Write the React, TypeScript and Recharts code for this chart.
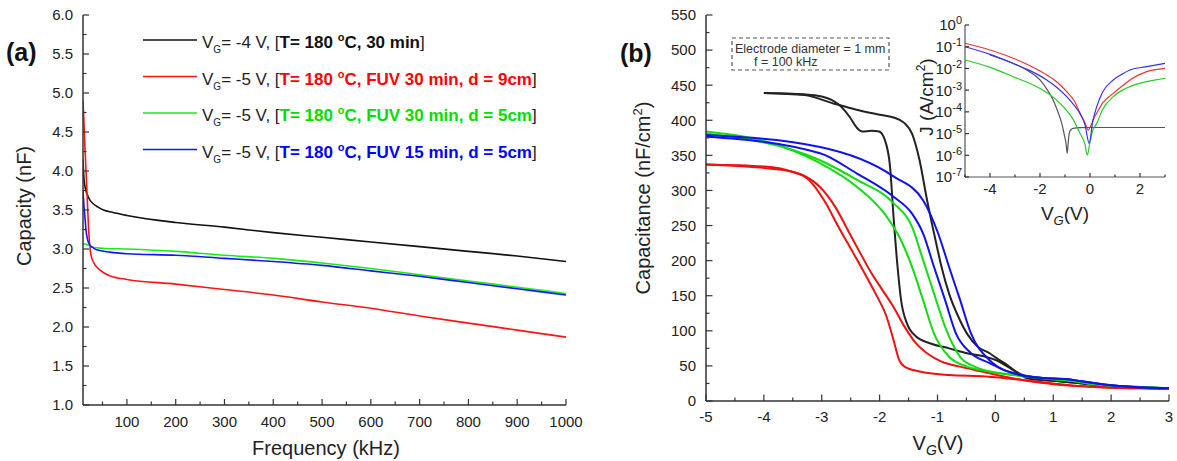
import React from 'react';
import { LineChart, Line, XAxis, YAxis } from 'recharts';

const FONT = '"Liberation Sans", Arial, Helvetica, sans-serif';
const AXIS = '#333333';
const TXT = '#222222';

// ---------------- Panel (a): capacity vs frequency ----------------
const aFreqBlack = [10, 12, 15, 20, 25, 31, 40, 52, 70, 100, 200, 300, 400, 500, 600, 700, 800, 900, 1000];
const aCapBlack = [4.15, 3.9, 3.77, 3.68, 3.62, 3.58, 3.54, 3.5, 3.47, 3.43, 3.34, 3.28, 3.21, 3.15, 3.09, 3.03, 2.97, 2.91, 2.84];
const aFreqRed = [10, 14, 18, 22, 25, 30, 45, 68, 100, 200, 300, 400, 500, 600, 700, 800, 900, 1000];
const aCapRed = [4.9, 4.3, 3.75, 3.2, 2.98, 2.85, 2.73, 2.65, 2.61, 2.55, 2.48, 2.41, 2.32, 2.24, 2.14, 2.05, 1.96, 1.87];
const aFreqGreen = [10, 20, 31, 50, 100, 200, 300, 400, 500, 600, 700, 800, 900, 1000];
const aCapGreen = [3.07, 3.05, 3.02, 3.01, 3.0, 2.97, 2.92, 2.88, 2.82, 2.75, 2.67, 2.59, 2.51, 2.43];
const aFreqBlue = [10, 12, 14, 16, 18, 24, 30, 38, 65, 100, 200, 300, 400, 500, 600, 700, 800, 900, 1000];
const aCapBlue = [3.75, 3.55, 3.41, 3.25, 3.16, 3.05, 3.02, 2.99, 2.96, 2.94, 2.92, 2.88, 2.84, 2.79, 2.72, 2.65, 2.57, 2.49, 2.41];

const aXTicks = [50, 100, 150, 200, 250, 300, 350, 400, 450, 500, 550, 600, 650, 700, 750, 800, 850, 900, 950, 1000];
const aYTicks = [1, 1.25, 1.5, 1.75, 2, 2.25, 2.5, 2.75, 3, 3.25, 3.5, 3.75, 4, 4.25, 4.5, 4.75, 5, 5.25, 5.5, 5.75, 6];

const aColors = ['#111111', '#ff1414', '#14ee14', '#1414ff'];
const aLegendColors = ['#111111', '#ff0000', '#00dd00', '#0000ff'];
const aLegendVg = ['-4', '-5', '-5', '-5'];
const aLegendCond = ['30 min', 'FUV 30 min, d = 9cm', 'FUV 30 min, d = 5cm', 'FUV 15 min, d = 5cm'];

// ---------------- Panel (b): C-V hysteresis ----------------
const bVBlackOut = [-4, -3.3, -2.8, -2.4, -2.0, -1.76, -1.57, -1.44, -1.31, -1.18, -1.06, -0.93, -0.8, -0.64, -0.49, -0.3, -0.1, 0.02, 0.21, 0.4, 0.56, 0.7, 1.0, 1.5, 2.0, 2.5, 3.0];
const bCBlackOut = [439, 436, 424, 415, 408, 404, 396, 381, 343, 286, 239, 191, 153, 120, 96, 77, 68, 61, 51, 39, 32, 31, 29, 25, 21, 19, 18];
const bVBlackIn = [-4, -3.3, -3.0, -2.7, -2.52, -2.39, -2.3, -2.14, -2.01, -1.91, -1.82, -1.76, -1.69, -1.63, -1.53, -1.37, -1.12, -0.8, -0.49, -0.17, 0.02, 0.21, 0.47, 0.66, 1.0, 1.5, 2.0, 2.5, 3.0];
const bCBlackIn = [439, 437, 434, 422, 405, 389, 384, 385, 384, 372, 334, 263, 191, 144, 111, 92, 82, 75, 68, 63, 58, 49, 37, 31, 29, 25, 21, 19, 18];

const bVRedIn = [-5, -3.98, -3.53, -3.22, -2.96, -2.71, -2.45, -2.26, -2.07, -1.88, -1.76, -1.66, -1.57, -1.31, -0.8, -0.17, 0.47, 1.0, 1.5, 2.0, 2.5, 3.0];
const bCRedIn = [337, 334, 327, 315, 286, 248, 210, 182, 153, 120, 87, 58, 49, 42, 37, 35, 30, 25, 21, 19, 18, 17];
const bVRedOut = [-5, -3.66, -3.28, -3.03, -2.77, -2.52, -2.33, -2.14, -1.95, -1.76, -1.57, -1.37, -1.18, -0.93, -0.61, -0.23, 0.15, 0.6, 1.0, 1.5, 2.0, 2.5, 3.0];
const bCRedOut = [337, 329, 320, 305, 277, 239, 210, 182, 158, 134, 106, 82, 68, 56, 49, 42, 35, 28, 24, 21, 19, 18, 17];

const bVGreenIn = [-5, -3.66, -3.03, -2.39, -1.88, -1.63, -1.44, -1.25, -1.06, -0.8, -0.49, -0.1, 0.5, 1.0, 1.3, 1.6, 2.0, 2.5, 3.0];
const bCGreenIn = [384, 362, 339, 305, 263, 229, 191, 144, 96, 63, 49, 42, 35, 31, 29, 25, 22, 20, 18];
const bVGreenOut = [-5, -3.03, -2.39, -1.76, -1.44, -1.25, -1.06, -0.87, -0.61, -0.36, -0.1, 0.5, 1.0, 1.3, 1.6, 2.0, 2.5, 3.0];
const bCGreenOut = [381, 343, 315, 282, 248, 201, 153, 106, 63, 49, 42, 36, 31, 29, 25, 22, 20, 18];

const bVBlueOut = [-5, -3.03, -1.76, -1.25, -0.99, -0.8, -0.61, -0.42, -0.1, 0.15, 0.78, 1.25, 1.42, 2.05, 3.0];
const bCBlueOut = [379, 362, 320, 286, 239, 191, 144, 96, 58, 44, 33, 31, 29, 22, 18];
const bVBlueIn = [-5, -3.03, -2.39, -1.76, -1.44, -1.25, -1.06, -0.87, -0.68, -0.42, -0.1, 0.15, 0.78, 1.25, 1.42, 2.05, 3.0];
const bCBlueIn = [377, 353, 324, 291, 267, 239, 191, 144, 96, 68, 54, 44, 33, 31, 29, 22, 18];

const bXTicks = [-5, -4.5, -4, -3.5, -3, -2.5, -2, -1.5, -1, -0.5, 0, 0.5, 1, 1.5, 2, 2.5, 3];
const bYTicks = [0, 25, 50, 75, 100, 125, 150, 175, 200, 225, 250, 275, 300, 325, 350, 375, 400, 425, 450, 475, 500, 525, 550];
const bColors = ['#222222', '#ee1111', '#11dd11', '#1111ee'];

// ---------------- Inset: J-V (log10 of J in A/cm^2) ----------------
const iVRed = [-5, -4, -3.07, -2.4, -1.73, -1.3, -0.93, -0.6, -0.4, -0.2, -0.07, 0.05, 0.15, 0.27, 0.5, 0.93, 1.3, 1.6, 2.27, 3];
const iLogRed = [-0.84, -1.15, -1.53, -1.88, -2.3, -2.65, -3.07, -3.55, -4.07, -4.5, -4.84, -4.6, -4.3, -4.06, -3.6, -3.15, -2.8, -2.53, -2.15, -2.0];
const iVBlue = [-5, -4, -3.07, -2.4, -1.73, -1.3, -0.93, -0.6, -0.4, -0.2, -0.03, 0.1, 0.27, 0.5, 0.93, 1.3, 1.6, 2.27, 3];
const iLogBlue = [-1.0, -1.35, -1.77, -2.1, -2.53, -2.9, -3.3, -3.75, -4.07, -4.6, -5.45, -4.5, -3.76, -3.1, -2.53, -2.25, -2.07, -1.92, -1.77];
const iVGreen = [-5, -4, -3.07, -2.0, -1.5, -1.07, -0.7, -0.4, -0.2, -0.11, 0.0, 0.1, 0.27, 0.5, 0.93, 1.3, 1.6, 2.27, 3];
const iLogGreen = [-1.61, -1.95, -2.38, -2.92, -3.3, -3.76, -4.3, -4.99, -5.5, -5.99, -5.4, -4.9, -4.53, -3.9, -3.3, -3.0, -2.84, -2.61, -2.46];
const iVBlack = [-4, -3.07, -2.5, -2.0, -1.7, -1.47, -1.3, -1.13, -1.02, -0.96, -0.91, -0.87, -0.83, -0.75, -0.67, -0.4, 0, 1, 2, 3];
const iLogBlack = [-1.38, -1.77, -2.1, -2.53, -3.0, -3.46, -3.95, -4.53, -5.1, -5.45, -5.91, -5.4, -4.99, -4.8, -4.76, -4.73, -4.72, -4.72, -4.72, -4.72];

const iXTicks = [-5, -4, -3, -2, -1, 0, 1, 2, 3];
const iYTicks = [1e-7, 1e-6, 1e-5, 1e-4, 1e-3, 1e-2, 1e-1, 1];
const iColors = ['#555555', '#ee3333', '#22cc22', '#3333ee'];

// ---------------- helpers ----------------
const pair = (xs: number[], ys: number[]) => xs.map((x, i) => ({ x, y: ys[i] }));
const pairLog = (xs: number[], ls: number[]) => xs.map((x, i) => ({ x, y: Math.pow(10, ls[i]) }));
const isMult = (v: number, step: number) => Math.abs(v / step - Math.round(v / step)) < 1e-6;

function bottomTick(isMajor: (v: number) => boolean, fmt: (v: number) => React.ReactNode, fs: number, dy: number, maj: number, min: number) {
  return (p: any) => {
    const v = p.payload.value;
    const major = isMajor(v);
    return (
      <g>
        <line x1={p.x} x2={p.x} y1={p.y} y2={p.y - (major ? maj : min)} stroke={AXIS} strokeWidth={1.2} />
        {major ? (
          <text x={p.x} y={p.y + dy} textAnchor="middle" fontSize={fs} fontFamily={FONT} fill={TXT}>
            {fmt(v)}
          </text>
        ) : null}
      </g>
    );
  };
}

function leftTick(isMajor: (v: number) => boolean, fmt: (v: number) => React.ReactNode, fs: number, gap: number, maj: number, min: number) {
  return (p: any) => {
    const v = p.payload.value;
    const major = isMajor(v);
    return (
      <g>
        <line x1={p.x} x2={p.x + (major ? maj : min)} y1={p.y} y2={p.y} stroke={AXIS} strokeWidth={1.2} />
        {major ? (
          <text x={p.x - gap} y={p.y} dy="0.36em" textAnchor="end" fontSize={fs} fontFamily={FONT} fill={TXT}>
            {fmt(v)}
          </text>
        ) : null}
      </g>
    );
  };
}

const expFmt = (v: number) => {
  const e = Math.round(Math.log10(v));
  return (
    <>
      10<tspan dy={-6} fontSize={11}>{e}</tspan>
    </>
  );
};

const axisLine = { stroke: AXIS, strokeWidth: 1.5 };

export default function App() {
  const aSeries = [
    pair(aFreqBlack, aCapBlack),
    pair(aFreqRed, aCapRed),
    pair(aFreqGreen, aCapGreen),
    pair(aFreqBlue, aCapBlue),
  ];
  const bSeries = [
    { d: pair(bVBlackOut, bCBlackOut), c: bColors[0] },
    { d: pair(bVBlackIn, bCBlackIn), c: bColors[0] },
    { d: pair(bVRedIn, bCRedIn), c: bColors[1] },
    { d: pair(bVRedOut, bCRedOut), c: bColors[1] },
    { d: pair(bVGreenIn, bCGreenIn), c: bColors[2] },
    { d: pair(bVGreenOut, bCGreenOut), c: bColors[2] },
    { d: pair(bVBlueIn, bCBlueIn), c: bColors[3] },
    { d: pair(bVBlueOut, bCBlueOut), c: bColors[3] },
  ];
  const iSeries = [
    { d: pairLog(iVBlack, iLogBlack), c: iColors[0] },
    { d: pairLog(iVGreen, iLogGreen), c: iColors[2] },
    { d: pairLog(iVRed, iLogRed), c: iColors[1] },
    { d: pairLog(iVBlue, iLogBlue), c: iColors[3] },
  ];

  const legendX1 = 143;
  const legendX2 = 197;
  const legendTextX = 202;
  const legendY0 = 40;
  const legendStep = 36.5;

  return (
    <div style={{ position: 'absolute', left: 0, top: 0, width: 1177, height: 461, background: '#fff', fontFamily: FONT }}>
      {/* Panel (a) */}
      <div style={{ position: 'absolute', left: 0, top: 0 }}>
        <LineChart width={590} height={461} margin={{ top: 15, right: 24, left: 0, bottom: 0 }}>
          <XAxis
            dataKey="x"
            type="number"
            domain={[10, 1000]}
            allowDataOverflow
            ticks={aXTicks}
            interval={0}
            height={56}
            tickSize={0}
            tickMargin={0}
            tickLine={false}
            axisLine={axisLine}
            tick={bottomTick((v) => isMult(v, 100), (v) => String(v), 15, 22, 6, 3.5)}
          />
          <XAxis xAxisId="top" orientation="top" type="number" domain={[10, 1000]} height={0} tick={false} tickLine={false} axisLine={axisLine} />
          <YAxis
            type="number"
            domain={[1, 6]}
            allowDataOverflow
            ticks={aYTicks}
            interval={0}
            width={83}
            tickSize={0}
            tickMargin={0}
            tickLine={false}
            axisLine={axisLine}
            tick={leftTick((v) => isMult(v, 0.5), (v) => v.toFixed(1), 15, 10, 6, 3.5)}
          />
          <YAxis yAxisId="right" orientation="right" type="number" domain={[1, 6]} width={0} tick={false} tickLine={false} axisLine={axisLine} />
          {aSeries.map((d, i) => (
            <Line key={i} data={d} dataKey="y" type="monotone" stroke={aColors[i]} strokeWidth={1.6} dot={false} isAnimationActive={false} />
          ))}
        </LineChart>
      </div>

      {/* Panel (b) */}
      <div style={{ position: 'absolute', left: 590, top: 0 }}>
        <LineChart width={587} height={461} margin={{ top: 15, right: 8, left: 0, bottom: 0 }}>
          <XAxis
            dataKey="x"
            type="number"
            domain={[-5, 3]}
            allowDataOverflow
            ticks={bXTicks}
            interval={0}
            height={60}
            tickSize={0}
            tickMargin={0}
            tickLine={false}
            axisLine={axisLine}
            tick={bottomTick((v) => isMult(v, 1), (v) => String(v), 15, 21, 6.5, 3.5)}
          />
          <XAxis xAxisId="top" orientation="top" type="number" domain={[-5, 3]} height={0} tick={false} tickLine={false} axisLine={axisLine} />
          <YAxis
            type="number"
            domain={[0, 550]}
            allowDataOverflow
            ticks={bYTicks}
            interval={0}
            width={116}
            tickSize={0}
            tickMargin={0}
            tickLine={false}
            axisLine={axisLine}
            tick={leftTick((v) => isMult(v, 50), (v) => String(v), 15, 10, 6.5, 3.5)}
          />
          <YAxis yAxisId="right" orientation="right" type="number" domain={[0, 550]} width={0} tick={false} tickLine={false} axisLine={axisLine} />
          {bSeries.map((s, i) => (
            <Line key={i} data={s.d} dataKey="y" type="monotone" stroke={s.c} strokeWidth={2} dot={false} isAnimationActive={false} />
          ))}
        </LineChart>
      </div>

      {/* Inset */}
      <div style={{ position: 'absolute', left: 880, top: 0 }}>
        <LineChart width={297} height={230} margin={{ top: 25, right: 12, left: 0, bottom: 0 }}>
          <XAxis
            dataKey="x"
            type="number"
            domain={[-5, 3]}
            allowDataOverflow
            ticks={iXTicks}
            interval={0}
            height={53}
            tickSize={0}
            tickMargin={0}
            tickLine={false}
            axisLine={{ stroke: '#555', strokeWidth: 1.2 }}
            tick={bottomTick((v) => isMult(v, 2), (v) => String(v), 15, 17, 4, 2.5)}
          />
          <XAxis xAxisId="top" orientation="top" type="number" domain={[-5, 3]} height={0} tick={false} tickLine={false} axisLine={{ stroke: '#555', strokeWidth: 1.2 }} />
          <YAxis
            type="number"
            scale="log"
            domain={[1e-7, 1]}
            allowDataOverflow
            ticks={iYTicks}
            interval={0}
            width={85}
            tickSize={0}
            tickMargin={0}
            tickLine={false}
            axisLine={{ stroke: '#555', strokeWidth: 1.2 }}
            tick={leftTick(() => true, expFmt, 15, 3, 4, 4)}
          />
          <YAxis yAxisId="right" orientation="right" type="number" domain={[0, 1]} width={0} tick={false} tickLine={false} axisLine={{ stroke: '#555', strokeWidth: 1.2 }} />
          {iSeries.map((s, i) => (
            <Line key={i} data={s.d} dataKey="y" type="monotone" stroke={s.c} strokeWidth={1.2} dot={false} isAnimationActive={false} />
          ))}
        </LineChart>
      </div>

      {/* Text overlay: titles, panel labels, legend, note box */}
      <svg width={1177} height={461} style={{ position: 'absolute', left: 0, top: 0, pointerEvents: 'none' }} fontFamily={FONT}>
        <text x={6} y={61} fontSize={25} fontWeight="bold" fill="#111">(a)</text>
        <text x={620} y={62} fontSize={25} fontWeight="bold" fill="#111">(b)</text>

        <text transform="translate(24,206) rotate(-90)" textAnchor="middle" dy="0.36em" fontSize={20} fill={TXT}>Capacity (nF)</text>
        <text x={326} y={455} textAnchor="middle" fontSize={20} fill={TXT}>Frequency (kHz)</text>

        <text transform="translate(643,198) rotate(-90)" textAnchor="middle" fontSize={20} fill={TXT}>
          <tspan dy="0.36em">Capacitance (nF/cm</tspan>
          <tspan dy={-8} fontSize={13}>2</tspan>
          <tspan dy={8}>)</tspan>
        </text>
        <text x={938} y={450} textAnchor="middle" fontSize={20} fill={TXT}>
          V<tspan dy={5} fontSize={14} fontStyle="italic">G</tspan><tspan dy={-5}>(V)</tspan>
        </text>

        <text x={1065} y={220} textAnchor="middle" fontSize={19} fill={TXT}>
          V<tspan dy={5} fontSize={13} fontStyle="italic">G</tspan><tspan dy={-5}>(V)</tspan>
        </text>
        <text transform="translate(933,97) rotate(-90)" textAnchor="middle" fontSize={19} fill={TXT}>
          <tspan>J (A/cm</tspan>
          <tspan dy={-8} fontSize={12}>2</tspan>
          <tspan dy={8}>)</tspan>
        </text>

        {aLegendVg.map((vg, i) => {
          const y = legendY0 + i * legendStep;
          return (
            <g key={i}>
              <line x1={legendX1} x2={legendX2} y1={y} y2={y} stroke={aColors[i]} strokeWidth={1.6} />
              <text x={legendTextX} y={y + 8} fontSize={17} fill={TXT}>
                V<tspan dy={5} fontSize={10}>G</tspan>
                <tspan dy={-5}>{`= ${vg} V, [`}</tspan>
                <tspan fontWeight="bold" fill={aLegendColors[i]}>T= 180 </tspan>
                <tspan fontWeight="bold" fill={aLegendColors[i]} fontSize={11} dy={-7}>o</tspan>
                <tspan fontWeight="bold" fill={aLegendColors[i]} dy={7}>{`C, ${aLegendCond[i]}`}</tspan>
                <tspan>]</tspan>
              </text>
            </g>
          );
        })}

        <rect x={732} y={38} width={157} height={32} fill="none" stroke="#555" strokeWidth={1.2} strokeDasharray="4 3" />
        <text x={735} y={53} fontSize={12.5} fill="#333">Electrode diameter = 1 mm</text>
        <text x={754} y={66} fontSize={12.5} fill="#333">f = 100 kHz</text>
      </svg>
    </div>
  );
}
